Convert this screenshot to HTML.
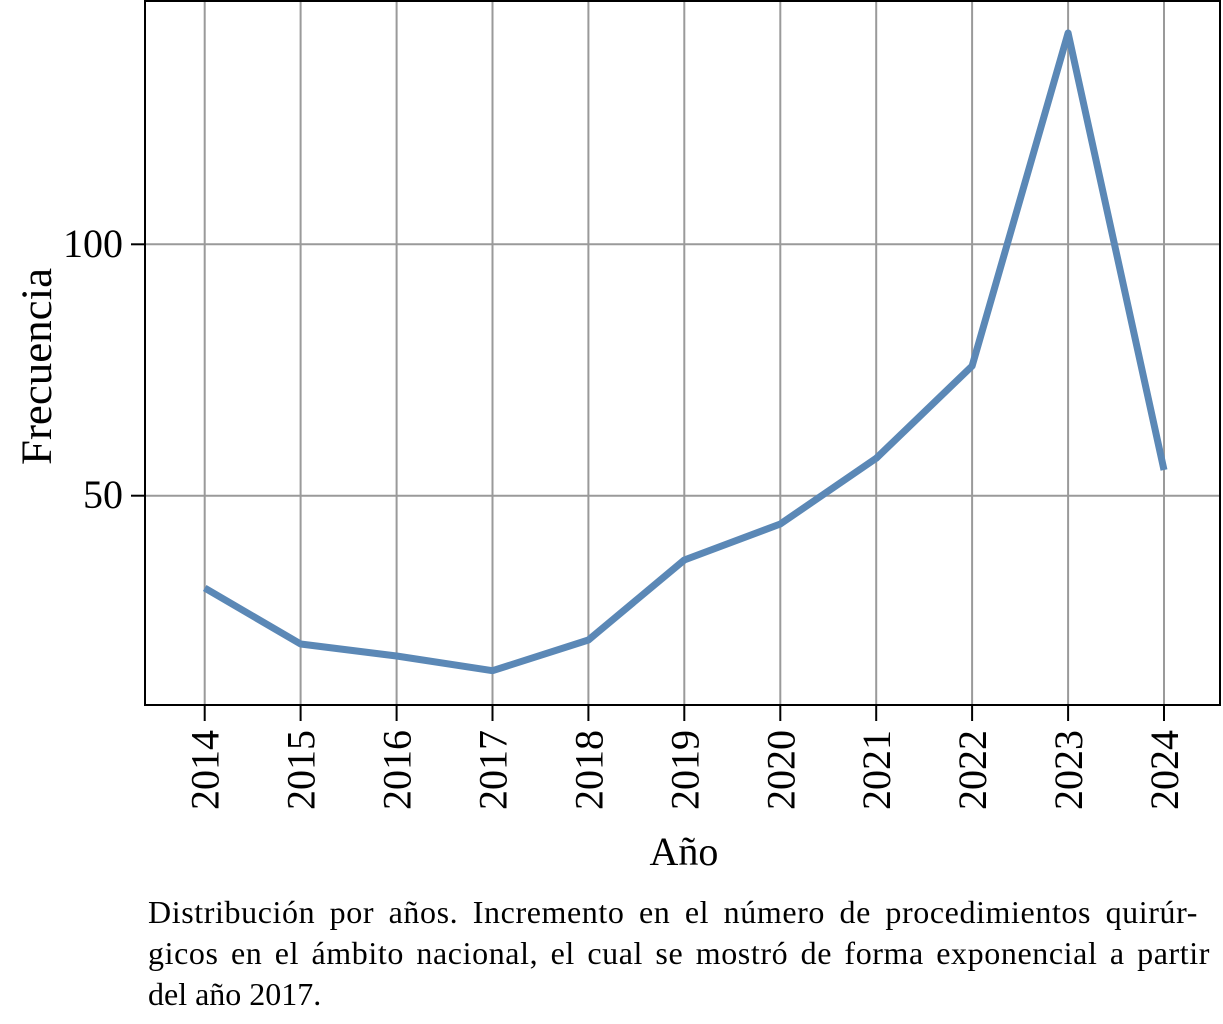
<!DOCTYPE html>
<html>
<head>
<meta charset="utf-8">
<style>
html,body{margin:0;padding:0;background:#fff;}
body{position:relative;width:1223px;height:1024px;overflow:hidden;}
svg{display:block;position:absolute;left:0;top:0;}
text{font-family:"Liberation Serif","DejaVu Serif",serif;fill:#000;}
.cap{position:absolute;left:148px;font-family:"Liberation Serif","DejaVu Serif",serif;font-size:32px;line-height:41px;height:41px;color:#000;white-space:nowrap;}
.j{text-align:justify;text-align-last:justify;white-space:normal;letter-spacing:0.6px;}
</style>
</head>
<body>
<svg width="1223" height="1024" viewBox="0 0 1223 1024" xmlns="http://www.w3.org/2000/svg">
  <rect x="0" y="0" width="1223" height="1024" fill="#fff"/>
  <!-- grid -->
  <g stroke="#9a9a9a" stroke-width="2" fill="none">
    <line x1="204.7" y1="1" x2="204.7" y2="705"/>
    <line x1="300.6" y1="1" x2="300.6" y2="705"/>
    <line x1="396.6" y1="1" x2="396.6" y2="705"/>
    <line x1="492.5" y1="1" x2="492.5" y2="705"/>
    <line x1="588.4" y1="1" x2="588.4" y2="705"/>
    <line x1="684.3" y1="1" x2="684.3" y2="705"/>
    <line x1="780.3" y1="1" x2="780.3" y2="705"/>
    <line x1="876.2" y1="1" x2="876.2" y2="705"/>
    <line x1="972.1" y1="1" x2="972.1" y2="705"/>
    <line x1="1068.1" y1="1" x2="1068.1" y2="705"/>
    <line x1="1164" y1="1" x2="1164" y2="705"/>
    <line x1="145" y1="244.3" x2="1220" y2="244.3"/>
    <line x1="145" y1="495.7" x2="1220" y2="495.7"/>
  </g>
  <!-- data line -->
  <polyline fill="none" stroke="#5b88b6" stroke-width="7" stroke-linejoin="round" stroke-linecap="butt"
    points="204.7,588 300.6,644 396.6,656 492.5,670.7 588.4,640 684.3,560 780.3,524 876.2,458.3 972.1,366 1068.1,33 1164,470"/>
  <!-- axes frame -->
  <rect x="145" y="1" width="1075" height="704" fill="none" stroke="#000" stroke-width="2"/>
  <!-- ticks -->
  <g stroke="#000" stroke-width="2">
    <line x1="131" y1="244.3" x2="145" y2="244.3"/>
    <line x1="131" y1="495.7" x2="145" y2="495.7"/>
    <line x1="204.7" y1="705" x2="204.7" y2="721"/>
    <line x1="300.6" y1="705" x2="300.6" y2="721"/>
    <line x1="396.6" y1="705" x2="396.6" y2="721"/>
    <line x1="492.5" y1="705" x2="492.5" y2="721"/>
    <line x1="588.4" y1="705" x2="588.4" y2="721"/>
    <line x1="684.3" y1="705" x2="684.3" y2="721"/>
    <line x1="780.3" y1="705" x2="780.3" y2="721"/>
    <line x1="876.2" y1="705" x2="876.2" y2="721"/>
    <line x1="972.1" y1="705" x2="972.1" y2="721"/>
    <line x1="1068.1" y1="705" x2="1068.1" y2="721"/>
    <line x1="1164" y1="705" x2="1164" y2="721"/>
  </g>
  <!-- y tick labels -->
  <text x="123" y="257" font-size="40" text-anchor="end">100</text>
  <text x="123" y="508" font-size="40" text-anchor="end">50</text>
  <!-- x tick labels -->
  <g font-size="40" text-anchor="end">
    <text transform="translate(218.7,730) rotate(-90)">2014</text>
    <text transform="translate(314.6,730) rotate(-90)">2015</text>
    <text transform="translate(410.6,730) rotate(-90)">2016</text>
    <text transform="translate(506.5,730) rotate(-90)">2017</text>
    <text transform="translate(602.4,730) rotate(-90)">2018</text>
    <text transform="translate(698.3,730) rotate(-90)">2019</text>
    <text transform="translate(794.3,730) rotate(-90)">2020</text>
    <text transform="translate(890.2,730) rotate(-90)">2021</text>
    <text transform="translate(986.1,730) rotate(-90)">2022</text>
    <text transform="translate(1082.1,730) rotate(-90)">2023</text>
    <text transform="translate(1178,730) rotate(-90)">2024</text>
  </g>
  <!-- axis labels -->
  <text x="684" y="865" font-size="40" text-anchor="middle">Año</text>
  <text transform="translate(51,366.5) rotate(-90)" font-size="43" text-anchor="middle" textLength="197" lengthAdjust="spacingAndGlyphs">Frecuencia</text>
</svg>
<div class="cap j" style="top:892px;width:1050px;">Distribución por años. Incremento en el número de procedimientos quirúr-</div>
<div class="cap j" style="top:933px;width:1062px;">gicos en el ámbito nacional, el cual se mostró de forma exponencial a partir</div>
<div class="cap" style="top:974px;">del año 2017.</div>
</body>
</html>
